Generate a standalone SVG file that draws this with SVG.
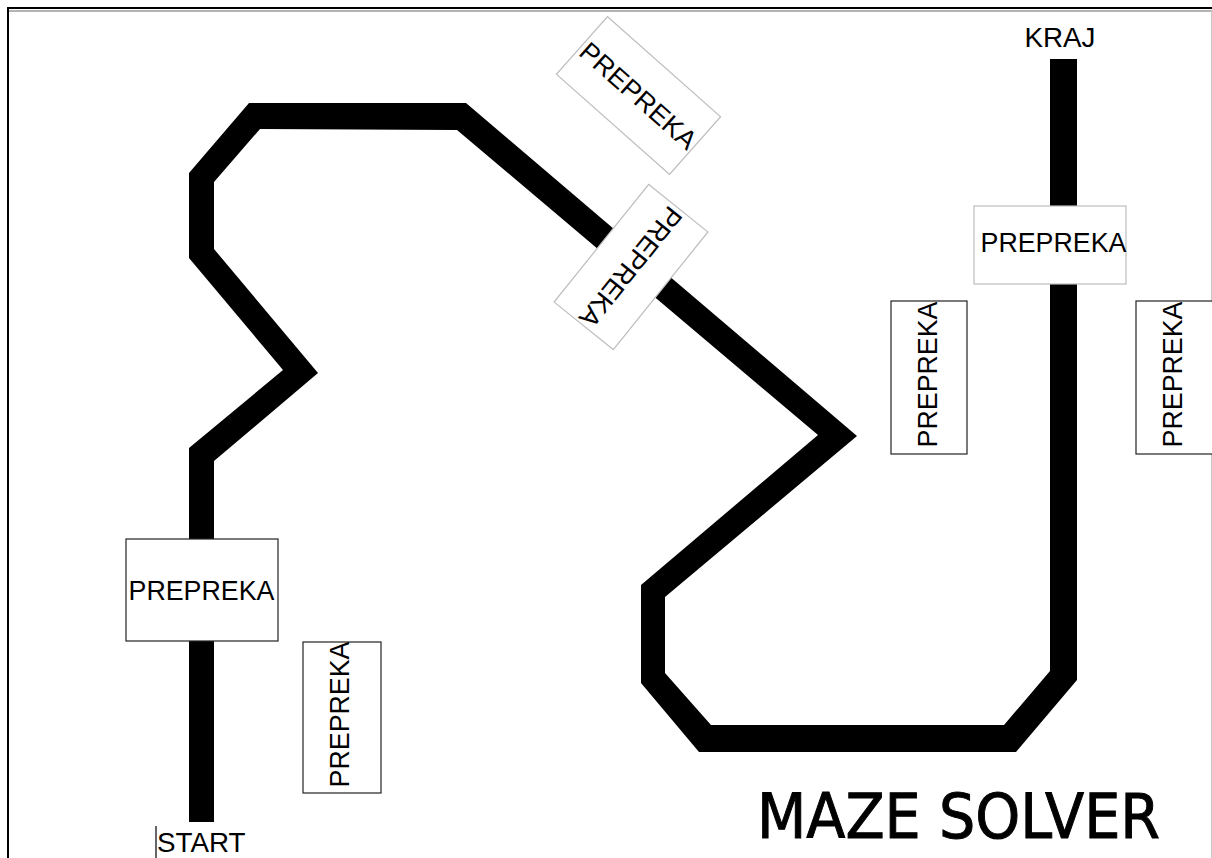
<svg xmlns="http://www.w3.org/2000/svg" width="1212" height="858" viewBox="0 0 1212 858">
<style>
.lbl{font-family:"Liberation Sans",Arial,sans-serif;font-size:26.8px;fill:#000}
.big{font-size:27.8px}
.boxd{fill:#fff;stroke:#222;stroke-width:1.2}
.boxl{fill:#fff;stroke:#bdbdbd;stroke-width:1.2}
</style>
<rect x="0" y="0" width="1212" height="858" fill="#fff"/>
<g id="frame">
<line x1="7" y1="8" x2="1212" y2="8" stroke="#000" stroke-width="2"/>
<line x1="9" y1="11" x2="1212" y2="11" stroke="#9a9a9a" stroke-width="1.5"/>
<line x1="8" y1="7" x2="8" y2="858" stroke="#000" stroke-width="2"/>
<line x1="1211.5" y1="11" x2="1211.5" y2="858" stroke="#c8c8c8" stroke-width="1"/>
</g>
<g id="connectors">
<polygon id="track" fill="#000" points="189,822 189,448 283,370 189,258 189,173 249,103 466,103 857,436 665,597 665,673 711,725 1004,725 1050,671 1050,59 1077,59 1077,680 1016,752 699,752 641,683 641,585 818,435 457,130 260,129 214,182 214,249 318,373 214,461 214,822"/>
</g>
<g id="node-start">
<line x1="156" y1="826" x2="156" y2="858" stroke="#000" stroke-width="1.2"/>
<text class="lbl big" x="157" y="852">START</text>
</g>
<g id="node-kraj">
<text class="lbl big" x="1060" y="47" text-anchor="middle">KRAJ</text>
</g>
<g id="prepreka-1">
<rect class="boxd" x="126" y="539" width="152" height="102"/>
<text class="lbl" x="201.5" y="600" text-anchor="middle">PREPREKA</text>
</g>
<g id="prepreka-2">
<rect class="boxd" x="303" y="642" width="78" height="151"/>
<text class="lbl" transform="translate(349,714.5) rotate(-90)" text-anchor="middle">PREPREKA</text>
</g>
<g id="prepreka-3">
<rect class="boxl" x="974" y="206" width="152" height="78"/>
<text class="lbl" x="1053.5" y="252" text-anchor="middle">PREPREKA</text>
</g>
<g id="prepreka-4">
<rect class="boxd" x="891" y="301" width="76" height="153"/>
<text class="lbl" transform="translate(937,374.5) rotate(-90)" text-anchor="middle">PREPREKA</text>
</g>
<g id="prepreka-5">
<rect class="boxd" x="1136" y="301" width="78" height="153"/>
<text class="lbl" transform="translate(1182,374.5) rotate(-90)" text-anchor="middle">PREPREKA</text>
</g>
<g id="prepreka-6" transform="translate(638.5,95.5) rotate(41.5)">
<rect class="boxl" x="-75.5" y="-38.5" width="151" height="77"/>
<text class="lbl" x="0" y="9.5" text-anchor="middle">PREPREKA</text>
</g>
<g id="prepreka-7" transform="translate(631,267) rotate(128.8)">
<rect class="boxl" x="-75.5" y="-38" width="151" height="76"/>
<text class="lbl" x="0" y="9.5" text-anchor="middle">PREPREKA</text>
</g>
<g id="title">
<text x="757" y="838" font-family="'DejaVu Sans Condensed','DejaVu Sans',sans-serif" font-stretch="condensed" font-size="62" textLength="403" lengthAdjust="spacingAndGlyphs" fill="#000" stroke="#000" stroke-width="0.9">MAZE SOLVER</text>
</g>
</svg>
